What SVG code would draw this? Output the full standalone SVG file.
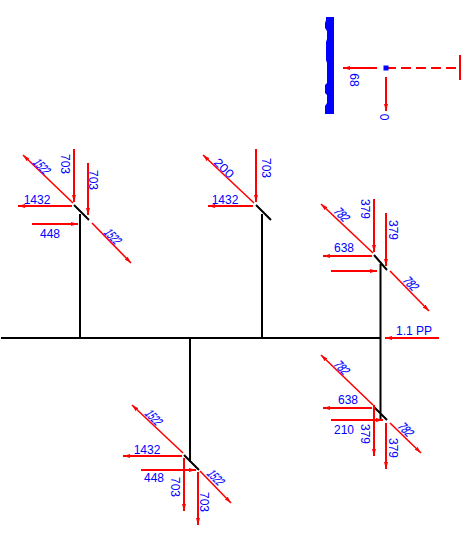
<svg xmlns="http://www.w3.org/2000/svg" width="467" height="550" viewBox="0 0 467 550">
<style>
.k{stroke:#000;stroke-width:2;fill:none}
.r{stroke:#f00;stroke-width:2;fill:none}
.a{stroke:#f00;stroke-width:2;fill:none;marker-end:url(#h)}
.d{stroke:#f00;stroke-width:1.6;fill:none;marker-end:url(#h)}
text{font-family:"Liberation Sans",Arial,sans-serif;font-size:12px;fill:#00f;text-anchor:middle}
.s{font-size:13px;stroke:#00f;stroke-width:.2}
.t{font-size:12px}
</style>
<defs><marker id="h" markerUnits="userSpaceOnUse" markerWidth="8" markerHeight="6" refX="7" refY="3" orient="auto"><path d="M0 1 7 3 0 5Z" fill="#f00"/></marker></defs>
<g id="connectors">
<path class="k" d="M1 338H381M80 214V338M262 214V338M380.500 264V420M190 338V462M74 205 89 220M256 205 271 220M374 255 387 270M374 407 387 420M184 455 199 470"/>
<path class="a" d="M377 68H343"/><path class="a" d="M386 77V111"/>
<path class="a" d="M74 149V202"/><path class="a" d="M88 163V215"/><path class="a" d="M72 206H18"/><path class="a" d="M32 224H78"/>
<path class="d" d="M92 223 131 263"/><path class="d" d="M73 203 23 155"/>
<path class="a" d="M256 149V202"/><path class="a" d="M253 206H208"/><path class="d" d="M254 203 203 155"/>
<path class="d" d="M373 253 321 204"/><path class="a" d="M374 199V252"/><path class="a" d="M386 213V266"/><path class="a" d="M372 256H323"/><path class="a" d="M331 271H377"/><path class="d" d="M390 271 429 311"/><path class="a" d="M439 338H385"/>
<path class="d" d="M373 405 321 355"/><path class="a" d="M372 408H323"/><path class="a" d="M331 420H383"/><path class="a" d="M374 405V456"/><path class="a" d="M386 423V469"/><path class="d" d="M390 423 421 453"/>
<path class="d" d="M183 453 132 405"/><path class="a" d="M182 456H123"/><path class="a" d="M141 470H196"/><path class="a" d="M184 458V511"/><path class="a" d="M198 472V525"/><path class="d" d="M200 471 231 503"/>
<path class="r" d="M386 68H460" stroke-dasharray="10 5"/>
<path class="r" d="M460 55V80"/>
</g>
<g id="title-block"><path d="M326 17h8v97h-9v-8l2-3v-8l-2-2v-8l2-2v-20l-1-3v-18l1-3v-8l-2-3v-5l1-3z" fill="#00f"/><rect x="383.500" y="65.500" width="5" height="5" fill="#00f"/></g>
<g id="labels">
<text transform="translate(350 80) rotate(90)">68</text>
<text transform="translate(380 117) rotate(90)">0</text>
<text x="37" y="204">1432</text><text x="50" y="238">448</text>
<text transform="translate(61 164) rotate(90)">703</text><text transform="translate(89 180) rotate(90)">703</text>
<text class="s" transform="translate(38 169) rotate(45) skewX(-15)" textLength="17" lengthAdjust="spacingAndGlyphs">1522</text><text class="s" transform="translate(109 239) rotate(45) skewX(-15)" textLength="17" lengthAdjust="spacingAndGlyphs">1522</text>
<text x="225" y="204">1432</text>
<text transform="translate(262 168) rotate(90)">703</text>
<text class="t" transform="translate(221 171) rotate(45)" textLength="23" lengthAdjust="spacingAndGlyphs">200</text>
<text x="344" y="252">638</text>
<text transform="translate(361 209) rotate(90)">379</text><text transform="translate(389 230) rotate(90)">379</text>
<text class="s" transform="translate(338 217) rotate(45) skewX(-15)" textLength="15" lengthAdjust="spacingAndGlyphs">782</text><text class="s" transform="translate(407 286) rotate(45) skewX(-15)" textLength="15" lengthAdjust="spacingAndGlyphs">782</text>
<text x="348" y="404">638</text><text x="344" y="434">210</text>
<text x="414" y="335">1.1 PP</text>
<text transform="translate(361 434) rotate(90)">379</text><text transform="translate(389 448) rotate(90)">379</text>
<text class="s" transform="translate(338 370) rotate(45) skewX(-15)" textLength="15" lengthAdjust="spacingAndGlyphs">782</text><text class="s" transform="translate(402 432) rotate(45) skewX(-15)" textLength="15" lengthAdjust="spacingAndGlyphs">782</text>
<text x="147" y="454">1432</text><text x="154" y="482">448</text>
<text transform="translate(171 487) rotate(90)">703</text><text transform="translate(200 502) rotate(90)">703</text>
<text class="s" transform="translate(150 420) rotate(45) skewX(-15)" textLength="17" lengthAdjust="spacingAndGlyphs">1522</text><text class="s" transform="translate(212 480) rotate(45) skewX(-15)" textLength="17" lengthAdjust="spacingAndGlyphs">1522</text>
</g>
</svg>
